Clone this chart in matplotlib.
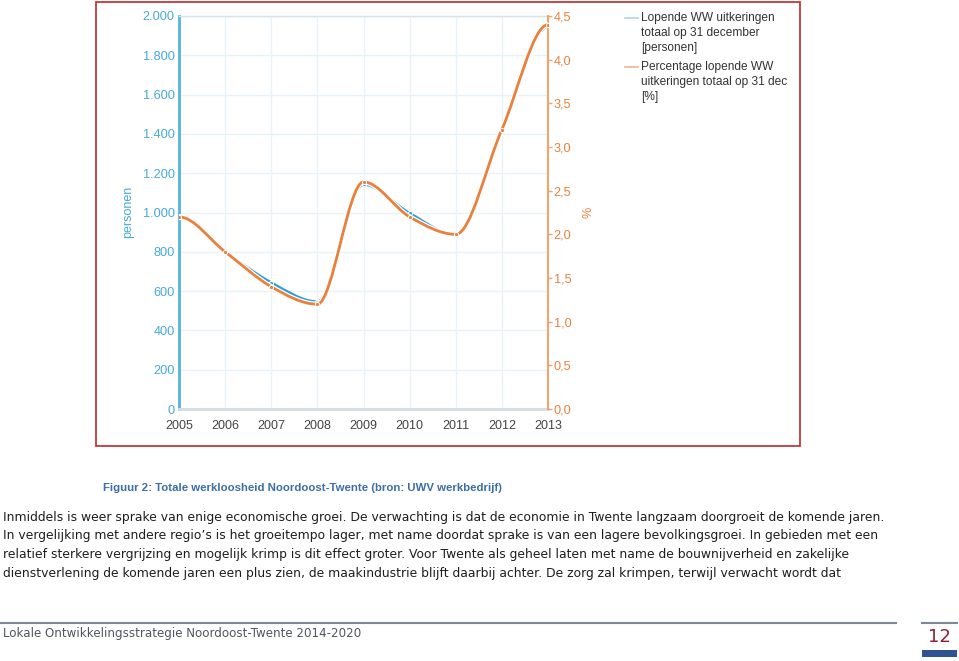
import matplotlib
matplotlib.use("Agg")
import matplotlib.pyplot as plt
from matplotlib.path import Path
from matplotlib.patches import PathPatch, Rectangle
from matplotlib.lines import Line2D

# ---------------- data ----------------
years = [2005, 2006, 2007, 2008, 2009, 2010, 2011, 2012, 2013]
personen = [975, 800, 643, 546, 1143, 996, 887, 1416, 1946]
percentage = [2.2, 1.8, 1.4, 1.2, 2.6, 2.2, 2.0, 3.2, 4.4]
left_ticks = [0, 200, 400, 600, 800, 1000, 1200, 1400, 1600, 1800, 2000]
left_tick_labels = ["0", "200", "400", "600", "800", "1.000", "1.200", "1.400",
                    "1.600", "1.800", "2.000"]
right_ticks = [0, 0.5, 1.0, 1.5, 2.0, 2.5, 3.0, 3.5, 4.0, 4.5]
right_tick_labels = ["0,0", "0,5", "1,0", "1,5", "2,0", "2,5", "3,0", "3,5", "4,0", "4,5"]
legend_blue = ["Lopende WW uitkeringen", "totaal op 31 december", "[personen]"]
legend_orange = ["Percentage lopende WW", "uitkeringen totaal op 31 dec", "[%]"]
caption = "Figuur 2: Totale werkloosheid Noordoost-Twente (bron: UWV werkbedrijf)"
body_lines = [
    "Inmiddels is weer sprake van enige economische groei. De verwachting is dat de economie in Twente langzaam doorgroeit de komende jaren.",
    "In vergelijking met andere regio\u2019s is het groeitempo lager, met name doordat sprake is van een lagere bevolkingsgroei. In gebieden met een",
    "relatief sterkere vergrijzing en mogelijk krimp is dit effect groter. Voor Twente als geheel laten met name de bouwnijverheid en zakelijke",
    "dienstverlening de komende jaren een plus zien, de maakindustrie blijft daarbij achter. De zorg zal krimpen, terwijl verwacht wordt dat",
]
footer = "Lokale Ontwikkelingsstrategie Noordoost-Twente 2014-2020"
page_no = "12"

BLUE = "#2f9fd8"
ORANGE = "#e9803c"
BLUE_AX = "#55b3e3"
ORANGE_AX = "#f2a46c"

W, H = 959, 661
fig = plt.figure(figsize=(W / 100, H / 100), dpi=100)


def fx(px):
    return px / W


def fy(py):
    return 1 - py / H


def sign(v):
    return (v > 0) - (v < 0)


def monotone_path(xs, ys):
    """Monotone cubic (Steffen) curve through the points, flat at both ends."""
    n = len(xs)
    sec = [(ys[i + 1] - ys[i]) / (xs[i + 1] - xs[i]) for i in range(n - 1)]
    m = [0.0] * n
    for i in range(1, n - 1):
        h0 = xs[i] - xs[i - 1]
        h1 = xs[i + 1] - xs[i]
        s0, s1 = sec[i - 1], sec[i]
        p = (s0 * h1 + s1 * h0) / (h0 + h1)
        m[i] = (sign(s0) + sign(s1)) * min(abs(s0), abs(s1), 0.5 * abs(p))
    verts = [(xs[0], ys[0])]
    codes = [Path.MOVETO]
    for i in range(n - 1):
        h = xs[i + 1] - xs[i]
        verts += [(xs[i] + h / 3, ys[i] + m[i] * h / 3),
                  (xs[i + 1] - h / 3, ys[i + 1] - m[i + 1] * h / 3),
                  (xs[i + 1], ys[i + 1])]
        codes += [Path.CURVE4] * 3
    return Path(verts, codes)


ax = fig.add_axes([fx(179), fy(409), fx(548) - fx(179), fy(16) - fy(409)])
ax2 = ax.twinx()

ax.set_xlim(years[0], years[-1])
ax.set_ylim(0, 2000)
ax2.set_ylim(0, 4.5)

ax.set_xticks(years)
ax.set_xticklabels([str(y) for y in years], fontsize=9, color="#444444",
                   family="Liberation Sans")
ax.set_yticks(left_ticks)
ax.set_yticklabels(left_tick_labels, fontsize=9.2, color="#45a9db",
                   family="Liberation Sans")
ax2.set_yticks(right_ticks)
ax2.set_yticklabels(right_tick_labels, fontsize=9.2, color=ORANGE,
                    family="Liberation Sans")
ax.tick_params(axis="y", length=0, pad=3)
ax.tick_params(axis="x", length=0, pad=8)
ax2.tick_params(axis="y", length=3, width=1, color=ORANGE_AX, pad=1)

ax.grid(True, color="#e7f3f9", lw=1)
ax.set_axisbelow(True)

for s in ["left", "right", "top", "bottom"]:
    ax2.spines[s].set_visible(False)
ax2.spines["right"].set_visible(True)
ax2.spines["right"].set_color(ORANGE_AX)
ax2.spines["right"].set_linewidth(1.5)
ax.spines["left"].set_color(BLUE_AX)
ax.spines["left"].set_linewidth(2)
ax.spines["right"].set_visible(False)
ax.spines["bottom"].set_color("#d3dde4")
ax.spines["bottom"].set_linewidth(2)
ax.spines["top"].set_color("#d9e2e8")
ax.spines["top"].set_linewidth(1)

# blue series
pb = monotone_path(years, personen)
ax.add_patch(PathPatch(pb, facecolor="none", edgecolor="white", lw=3.8, zorder=3))
ax.add_patch(PathPatch(pb, facecolor="none", edgecolor=BLUE, lw=2.0, zorder=4))
ax.plot(years, personen, "o", ms=3.0, mfc=BLUE, mec="white", mew=0.7, zorder=5)

# orange series
po = monotone_path(years, percentage)
ax2.add_patch(PathPatch(po, facecolor="none", edgecolor="white", lw=3.8, zorder=3))
ax2.add_patch(PathPatch(po, facecolor="none", edgecolor=ORANGE, lw=2.0, zorder=4))
ax2.plot(years, percentage, "o", ms=3.0, mfc=ORANGE, mec="white", mew=0.7, zorder=5)

# axis titles
fig.text(fx(128), fy(212), "personen", rotation=90, ha="center", va="center",
         color="#45a9db", fontsize=9, family="Liberation Sans")
fig.text(fx(588), fy(212), "%", rotation=90, ha="center", va="center",
         color=ORANGE, fontsize=9, family="Liberation Sans")

# legend
fig.add_artist(Line2D([fx(625), fx(638)], [fy(18), fy(18)], color="#a9d6ef", lw=1.2))
fig.add_artist(Line2D([fx(625), fx(638)], [fy(67), fy(67)], color="#f0b48a", lw=1.2))
for i, t in enumerate(legend_blue):
    fig.text(fx(641), fy(18 + 15 * i), t, ha="left", va="center", fontsize=8.6,
             color="#333333", family="Liberation Sans")
for i, t in enumerate(legend_orange):
    fig.text(fx(641), fy(67 + 15 * i), t, ha="left", va="center", fontsize=8.6,
             color="#333333", family="Liberation Sans")

# red frame
fig.add_artist(Rectangle((fx(96), fy(446)), fx(800) - fx(96), fy(2) - fy(446),
                         fill=False, edgecolor="#c3393a", lw=1.3,
                         transform=fig.transFigure))

# caption and body text
fig.text(fx(103), fy(488), caption, ha="left", va="center", fontsize=8.2,
         fontweight="bold", color="#3c6ea9", family="Liberation Sans")
for i, t in enumerate(body_lines):
    fig.text(fx(3), fy(517 + 18.8 * i), t, ha="left", va="center", fontsize=8.95,
             color="#1e1e1e", family="DejaVu Sans")

# footer
fig.add_artist(Line2D([0, fx(896)], [fy(623), fy(623)], color="#7d8896", lw=1.5))
fig.add_artist(Line2D([fx(922), fx(957)], [fy(623), fy(623)], color="#7d8896", lw=1.5))
fig.text(fx(3), fy(634), footer, ha="left", va="center", fontsize=8.6,
         color="#505560", family="DejaVu Sans")
fig.text(fx(939), fy(637), page_no, ha="center", va="center", fontsize=13,
         color="#8e1f30", family="DejaVu Sans")
fig.add_artist(Rectangle((fx(922), fy(657)), fx(957) - fx(922), fy(650) - fy(657),
                         facecolor="#2e5493", edgecolor="none",
                         transform=fig.transFigure))

fig.savefig("out.png", dpi=100)
